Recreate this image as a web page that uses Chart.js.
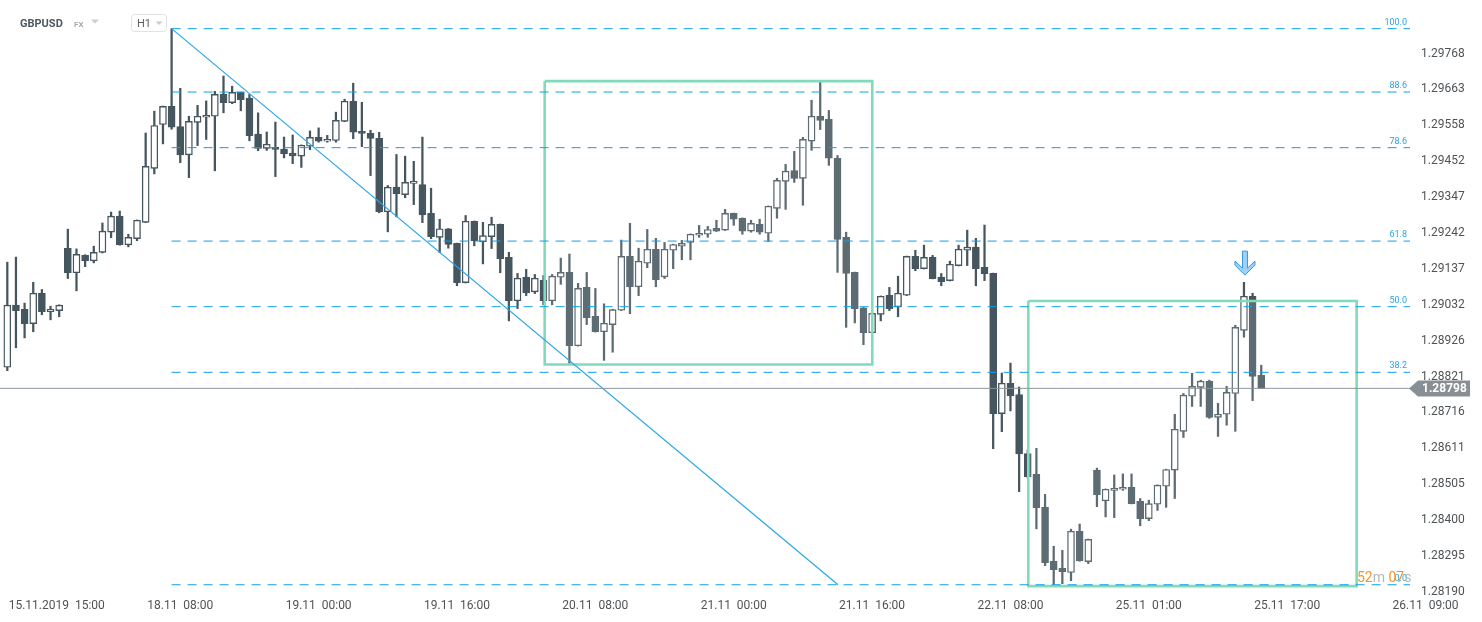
<!DOCTYPE html>
<html><head><meta charset="utf-8">
<script src="https://cdn.jsdelivr.net/npm/chart.js@4.4.0/dist/chart.umd.min.js"></script>
<style>html,body{margin:0;padding:0;background:#fff;overflow:hidden}canvas{display:block}</style>
</head><body>
<canvas id="c" width="1482" height="622"></canvas>
<script>
// ---- data (GBPUSD H1) ----
const openP = [1.28860,1.29042,1.29030,1.28988,1.29077,1.29023,1.29026,1.29209,1.29137,1.29188,
1.29172,1.29197,1.29256,1.29303,1.29219,1.29237,1.29285,1.29443,1.29572,1.29625,
1.29566,1.29483,1.29578,1.29593,1.29596,1.29661,1.29636,1.29666,1.29649,1.29544,
1.29502,1.29505,1.29500,1.29488,1.29479,1.29508,1.29534,1.29523,1.29525,1.29581,
1.29640,1.29552,1.29546,1.29531,1.29316,1.29388,1.29366,1.29399,1.29396,1.29311,
1.29241,1.29266,1.29223,1.29108,1.29288,1.29228,1.29243,1.29279,1.29182,1.29055,
1.29124,1.29081,1.29115,1.29055,1.29124,1.29138,1.28923,1.29094,1.29009,1.28964,
1.28985,1.29027,1.29185,1.29096,1.29165,1.29206,1.29125,1.29203,1.29215,1.29226,
1.29247,1.29250,1.29267,1.29262,1.29311,1.29297,1.29259,1.29279,1.29253,1.29326,
1.29405,1.29437,1.29414,1.29523,1.29596,1.29587,1.29473,1.29241,1.29138,1.29034,
1.28961,1.29015,1.29071,1.29037,1.29071,1.29185,1.29149,1.29182,1.29124,1.29114,
1.29158,1.29203,1.29212,1.29153,1.29135,1.28724,1.28813,1.28780,1.28607,1.28546,
1.28449,1.28291,1.28270,1.28258,1.28379,1.28290,1.28558,1.28468,1.28499,1.28502,
1.28508,1.28467,1.28416,1.28458,1.28511,1.28558,1.28672,1.28775,1.28801,1.28819,
1.28713,1.28722,1.28783,1.28968,1.29068,1.28836];
const highP = [1.29168,1.29183,1.29048,1.29109,1.29088,1.29039,1.29043,1.29265,1.29207,1.29190,
1.29215,1.29283,1.29315,1.29318,1.29250,1.29292,1.29547,1.29611,1.29626,1.29853,
1.29678,1.29596,1.29628,1.29641,1.29669,1.29714,1.29684,1.29667,1.29660,1.29606,
1.29550,1.29579,1.29535,1.29541,1.29512,1.29553,1.29562,1.29540,1.29608,1.29646,
1.29693,1.29637,1.29555,1.29549,1.29393,1.29484,1.29479,1.29464,1.29535,1.29385,
1.29294,1.29267,1.29224,1.29305,1.29289,1.29285,1.29300,1.29280,1.29197,1.29135,
1.29147,1.29132,1.29129,1.29132,1.29180,1.29192,1.29106,1.29138,1.29091,1.29046,
1.29030,1.29233,1.29282,1.29209,1.29264,1.29238,1.29226,1.29221,1.29232,1.29251,
1.29276,1.29273,1.29291,1.29323,1.29312,1.29298,1.29291,1.29294,1.29333,1.29414,
1.29455,1.29493,1.29534,1.29643,1.29696,1.29613,1.29481,1.29256,1.29139,1.29035,
1.29019,1.29069,1.29094,1.29127,1.29186,1.29203,1.29218,1.29188,1.29135,1.29171,
1.29218,1.29262,1.29238,1.29277,1.29136,1.28843,1.28872,1.28802,1.28617,1.28622,
1.28487,1.28335,1.28323,1.28385,1.28400,1.28356,1.28564,1.28503,1.28544,1.28547,
1.28547,1.28475,1.28470,1.28515,1.28561,1.28722,1.28783,1.28842,1.28822,1.28822,
1.28754,1.28804,1.28983,1.29109,1.29077,1.28866];
const lowP = [1.28850,1.28917,1.28946,1.28964,1.29014,1.28999,1.29008,1.29120,1.29084,1.29155,
1.29166,1.29195,1.29240,1.29218,1.29213,1.29231,1.29284,1.29427,1.29515,1.29558,
1.29460,1.29416,1.29510,1.29528,1.29436,1.29606,1.29633,1.29612,1.29524,1.29495,
1.29496,1.29419,1.29474,1.29457,1.29446,1.29498,1.29520,1.29520,1.29520,1.29580,
1.29530,1.29507,1.29422,1.29313,1.29257,1.29301,1.29357,1.29337,1.29284,1.29237,
1.29196,1.29209,1.29099,1.29107,1.29216,1.29163,1.29208,1.29137,1.28996,1.29032,
1.29070,1.29076,1.29043,1.29043,1.29103,1.28871,1.28922,1.28985,1.28963,1.28880,
1.28904,1.29026,1.29017,1.29070,1.29152,1.29096,1.29120,1.29149,1.29175,1.29175,
1.29241,1.29241,1.29258,1.29261,1.29276,1.29250,1.29256,1.29250,1.29229,1.29297,
1.29323,1.29402,1.29335,1.29496,1.29557,1.29452,1.29138,1.28977,1.28990,1.28926,
1.28960,1.28996,1.29026,1.29008,1.29070,1.29143,1.29148,1.29119,1.29099,1.29113,
1.29157,1.29158,1.29099,1.29114,1.28621,1.28671,1.28732,1.28495,1.28535,1.28386,
1.28278,1.28218,1.28225,1.28234,1.28291,1.28284,1.28451,1.28421,1.28419,1.28499,
1.28459,1.28395,1.28410,1.28440,1.28449,1.28475,1.28654,1.28745,1.28745,1.28710,
1.28657,1.28690,1.28672,1.28948,1.28762,1.28797];
const closeP = [1.29042,1.29026,1.28988,1.29077,1.29023,1.29030,1.29042,1.29137,1.29191,1.29172,
1.29197,1.29259,1.29303,1.29219,1.29241,1.29291,1.29449,1.29569,1.29625,1.29564,
1.29483,1.29581,1.29596,1.29599,1.29660,1.29636,1.29666,1.29645,1.29539,1.29502,
1.29514,1.29499,1.29486,1.29480,1.29511,1.29534,1.29523,1.29528,1.29584,1.29640,
1.29549,1.29546,1.29531,1.29316,1.29388,1.29369,1.29402,1.29405,1.29307,1.29243,
1.29266,1.29220,1.29108,1.29288,1.29231,1.29246,1.29279,1.29178,1.29055,1.29121,
1.29078,1.29121,1.29055,1.29127,1.29138,1.28923,1.29091,1.29005,1.28964,1.28989,
1.29029,1.29185,1.29096,1.29171,1.29206,1.29117,1.29206,1.29220,1.29223,1.29250,
1.29253,1.29264,1.29259,1.29311,1.29294,1.29259,1.29282,1.29256,1.29332,1.29408,
1.29435,1.29414,1.29528,1.29596,1.29584,1.29473,1.29235,1.29135,1.29032,1.28961,
1.29018,1.29068,1.29032,1.29077,1.29185,1.29149,1.29182,1.29120,1.29111,1.29162,
1.29206,1.29212,1.29149,1.29134,1.28724,1.28813,1.28776,1.28606,1.28539,1.28448,
1.28287,1.28266,1.28260,1.28379,1.28292,1.28355,1.28486,1.28502,1.28505,1.28508,
1.28460,1.28416,1.28460,1.28514,1.28560,1.28678,1.28778,1.28804,1.28819,1.28713,
1.28722,1.28786,1.28977,1.29068,1.28833,1.28798];

const xTickIndex  = [4, 20, 36, 52, 68, 84, 100, 116, 132, 148, 164];
const xTickLabels = ['15.11.2019  15:00','18.11  08:00','19.11  00:00','19.11  16:00','20.11  08:00',
                     '21.11  00:00','21.11  16:00','22.11  08:00','25.11  01:00','25.11  17:00','26.11  09:00'];
const yTickLabels = ['1.29768','1.29663','1.29558','1.29452','1.29347','1.29242','1.29137','1.29032',
                     '1.28926','1.28821','1.28716','1.28611','1.28505','1.28400','1.28295','1.28190'];

const fibLevels = [100.0, 88.6, 78.6, 61.8, 50.0, 38.2, 0.0];
const fibHigh = 1.29853, fibLow = 1.28222, fibStartIndex = 19;
const trendFrom = [19, 1.29853];
const trendTo   = [96.06, 1.28222];
const zoneFrom   = [62.14, 118.06];
const zoneTo     = [100.02, 156.03];
const zoneTop    = [1.29699, 1.29054];
const zoneBottom = [1.28868, 1.28218];
const currentPrice = 1.28798;
const signalIndex = 143, signalPrice = 1.29130;

// ---- chart ----
const X_MIN = -0.844, X_MAX = 162.2;
const CANDLE = '#46565f';
const FIB = '#139fe6';
const idx = openP.map((_, i) => i);
const up = idx.map(i => closeP[i] >= openP[i]);

const datasets = [
  { type: 'bar', label: 'wicks', data: idx.map(i => ({x: i, y: [lowP[i], highP[i]]})),
    backgroundColor: CANDLE, borderWidth: 0, barThickness: 1.6, grouped: false, order: 6 },
  { type: 'bar', label: 'bodies', data: idx.map(i => ({x: i, y: [openP[i], closeP[i]]})),
    backgroundColor: up.map(u => u ? '#ffffff' : CANDLE), borderColor: CANDLE,
    borderWidth: 1.4, borderSkipped: false, barThickness: 7, grouped: false, order: 5 }
];
const BODY_DS = 1;
zoneFrom.forEach((f, k) => {
  datasets.push({ type: 'line', data: [
      {x: f, y: zoneTop[k]}, {x: zoneTo[k], y: zoneTop[k]}, {x: zoneTo[k], y: zoneBottom[k]},
      {x: f, y: zoneBottom[k]}, {x: f, y: zoneTop[k]}],
    borderColor: '#7fdbb9', borderWidth: 2.6, pointRadius: 0, fill: false, order: 4 });
});
fibLevels.forEach(l => {
  const p = fibLow + (fibHigh - fibLow) * l / 100;
  datasets.push({ type: 'line', data: [{x: fibStartIndex, y: p}, {x: X_MAX, y: p}],
    borderColor: FIB, borderWidth: 1, borderDash: [9, 7], pointRadius: 0, fill: false, order: 3 });
});
datasets.push({ type: 'line', data: [{x: trendFrom[0], y: trendFrom[1]}, {x: trendTo[0], y: trendTo[1]}],
  borderColor: '#2aa6ea', borderWidth: 1.2, pointRadius: 0, fill: false, order: 2 });
datasets.push({ type: 'line', data: [{x: X_MIN, y: currentPrice}, {x: X_MAX, y: currentPrice}],
  borderColor: '#8e979c', borderWidth: 1, pointRadius: 0, fill: false, order: 1 });

const overlay = {
  id: 'overlay',
  afterDatasetDraw(chart, args) {
    if (args.index !== BODY_DS) return;
    const {ctx, scales: {x, y}} = chart;
    ctx.save();
    ctx.fillStyle = 'rgba(255,255,255,0.13)';
    zoneFrom.forEach((f, k) => {
      const x0 = x.getPixelForValue(f), x1 = x.getPixelForValue(zoneTo[k]);
      const y0 = y.getPixelForValue(zoneTop[k]), y1 = y.getPixelForValue(zoneBottom[k]);
      ctx.fillRect(x0, y0, x1 - x0, y1 - y0);
    });
    ctx.restore();
  },
  afterDraw(chart) {
    const {ctx, scales: {x, y}, chartArea} = chart;
    ctx.save();
    // fib labels
    ctx.font = '9px Roboto';
    ctx.fillStyle = '#29a3e4';
    ctx.textAlign = 'right';
    ctx.textBaseline = 'alphabetic';
    fibLevels.forEach(l => {
      const p = fibLow + (fibHigh - fibLow) * l / 100;
      ctx.fillText(l.toFixed(1), chartArea.right - 3, y.getPixelForValue(p) - 4);
    });
    // countdown
    ctx.textAlign = 'left';
    ctx.font = '14px Roboto';
    let cx = 1357; const cy = 582;
    [['52', '#f7941d'], ['m ', '#b3b8bb'], ['07', '#f7941d'], ['s', '#b3b8bb']].forEach(([t, c]) => {
      ctx.fillStyle = c; ctx.fillText(t, cx, cy); cx += ctx.measureText(t).width;
    });
    // price tag
    const py = Math.round(y.getPixelForValue(currentPrice)) + 0.5;
    const tx = chartArea.right - 1;
    ctx.fillStyle = '#878f94';
    ctx.beginPath();
    ctx.moveTo(tx, py);
    ctx.lineTo(tx + 9, py - 8);
    ctx.lineTo(1470, py - 8);
    ctx.lineTo(1470, py + 8);
    ctx.lineTo(tx + 9, py + 8);
    ctx.closePath();
    ctx.fill();
    ctx.fillStyle = '#ffffff';
    ctx.font = 'bold 12px Roboto';
    ctx.textBaseline = 'middle';
    ctx.fillText(currentPrice.toFixed(5), 1422, py + 0.5);
    // signal arrow
    const ax = x.getPixelForValue(signalIndex) + 1, ay = y.getPixelForValue(signalPrice);
    ctx.beginPath();
    ctx.moveTo(ax, ay);
    ctx.lineTo(ax - 10, ay - 10);
    ctx.lineTo(ax - 10, ay - 14);
    ctx.lineTo(ax - 2.5, ay - 7);
    ctx.lineTo(ax - 2.5, ay - 24);
    ctx.lineTo(ax + 2.5, ay - 24);
    ctx.lineTo(ax + 2.5, ay - 7);
    ctx.lineTo(ax + 10, ay - 14);
    ctx.lineTo(ax + 10, ay - 10);
    ctx.closePath();
    ctx.fillStyle = '#9fd0f7';
    ctx.fill();
    ctx.strokeStyle = '#3896e6';
    ctx.lineWidth = 1;
    ctx.stroke();
    // header
    ctx.textBaseline = 'alphabetic';
    ctx.textAlign = 'left';
    ctx.font = 'bold 11px Roboto';
    ctx.fillStyle = '#4e585e';
    ctx.fillText('GBPUSD', 20, 27);
    ctx.font = 'bold 8px Roboto';
    ctx.fillStyle = '#a3acb1';
    ctx.fillText('FX', 74, 27);
    ctx.fillStyle = '#c7cdd0';
    ctx.beginPath(); ctx.moveTo(91, 19.5); ctx.lineTo(99, 19.5); ctx.lineTo(95, 23.5); ctx.closePath(); ctx.fill();
    ctx.strokeStyle = '#dfe3e6';
    ctx.lineWidth = 1;
    ctx.beginPath();
    if (ctx.roundRect) ctx.roundRect(131.5, 14.5, 35, 17, 3); else ctx.rect(131.5, 14.5, 35, 17);
    ctx.stroke();
    ctx.font = '11px Roboto';
    ctx.fillStyle = '#5b6368';
    ctx.fillText('H1', 137, 27);
    ctx.fillStyle = '#c7cdd0';
    ctx.beginPath(); ctx.moveTo(155.5, 21.5); ctx.lineTo(162.5, 21.5); ctx.lineTo(159, 25); ctx.closePath(); ctx.fill();
    ctx.restore();
  }
};

Chart.defaults.font.family = 'Roboto';
new Chart(document.getElementById('c'), {
  type: 'bar',
  data: { datasets },
  options: {
    responsive: false,
    devicePixelRatio: 1,
    animation: false,
    layout: { padding: 0 },
    plugins: { legend: { display: false }, tooltip: { enabled: false } },
    scales: {
      x: {
        type: 'linear', min: X_MIN, max: X_MAX, offset: false, bounds: 'data',
        grid: { display: false, drawTicks: false }, border: { display: false },
        afterBuildTicks: s => { s.ticks = xTickIndex.map(v => ({ value: v })); },
        afterFit: s => { s.height = 26; s.paddingLeft = 0; s.paddingRight = 0; },
        ticks: {
          autoSkip: false, maxRotation: 0, minRotation: 0, padding: 3,
          color: '#4f5356', font: { size: 12 },
          callback: (v, i) => (i === 0 ? '          ' : '') + xTickLabels[i]
        }
      },
      y: {
        type: 'linear', position: 'right',
        min: 1.28189, max: 1.29937,
        grid: { display: false, drawTicks: false }, border: { display: false },
        afterBuildTicks: s => { s.ticks = yTickLabels.map(t => ({ value: parseFloat(t) })); },
        afterFit: s => { s.width = 72; s.paddingTop = 0; s.paddingBottom = 0; },
        ticks: {
          autoSkip: false, padding: 11, labelOffset: -4,
          color: '#4f5356', font: { size: 12 },
          callback: (v, i) => yTickLabels[i]
        }
      }
    }
  },
  plugins: [overlay]
});
</script>
</body></html>
